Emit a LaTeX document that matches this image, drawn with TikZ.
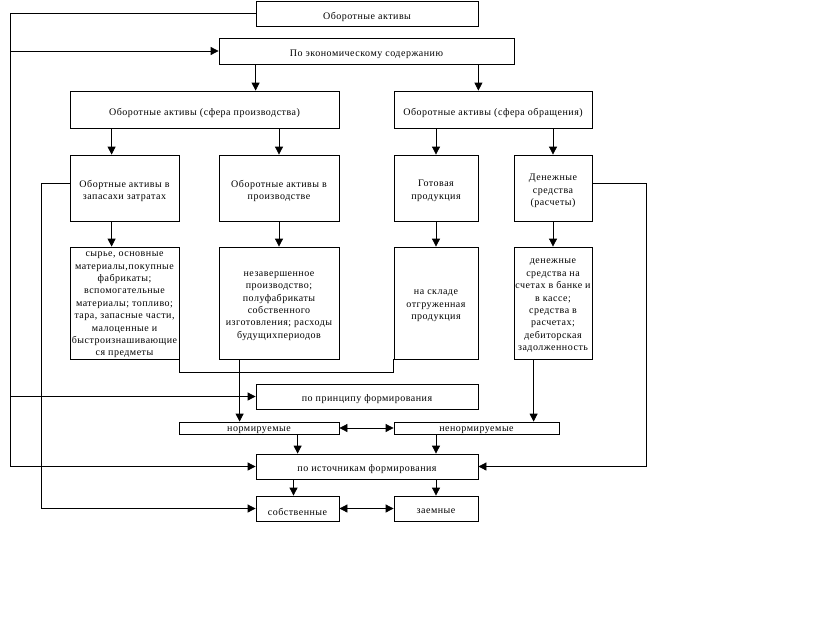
\documentclass[tikz,border=0pt]{standalone}
\usepackage{fontspec}
\newfontfamily\diafont[LetterSpace=5]{Liberation Serif}
\usetikzlibrary{arrows.meta}
\begin{document}
\begin{tikzpicture}[x=1pt,y=-1pt,
  box/.style={draw,line width=0.8pt,inner sep=0pt},
  boxtext/.style={align=center,inner sep=0pt,yshift=-3pt,
    font={\diafont\fontsize{10}{12.4}\selectfont}},
  conn/.style={line width=0.8pt},
  arr/.style={conn,-{Triangle[length=8pt,width=8pt]}},
  darr/.style={conn,{Triangle[length=8pt,width=8pt]}-{Triangle[length=8pt,width=8pt]}}]
\useasboundingbox (0,0) rectangle (834,629);
% boxes
\node[box,minimum width=222pt,minimum height=25pt,label={[boxtext]center:{Оборотные активы}}] (b1) at (367,13.5) {};
\node[box,minimum width=295pt,minimum height=26pt,label={[boxtext]center:{По экономическому содержанию}}] (b2) at (366.5,51) {};
\node[box,minimum width=269pt,minimum height=37pt,label={[boxtext]center:{Оборотные активы (сфера производства)}}] (b3) at (204.5,109.5) {};
\node[box,minimum width=198pt,minimum height=37pt,label={[boxtext]center:{Оборотные активы (сфера обращения)}}] (b4) at (493,109.5) {};
\node[box,minimum width=109pt,minimum height=66pt,label={[boxtext]center:{Обортные активы в\\запасахи затратах}}] (b5) at (124.5,188) {};
\node[box,minimum width=120pt,minimum height=66pt,label={[boxtext]center:{Оборотные активы в\\производстве}}] (b6) at (279,188) {};
\node[box,minimum width=84pt,minimum height=66pt,label={[boxtext]center:{Готовая\\продукция}}] (b7) at (436,188) {};
\node[box,minimum width=78pt,minimum height=66pt,label={[boxtext]center:{Денежные\\средства\\(расчеты)}}] (b8) at (553,188) {};
\node[box,minimum width=109pt,minimum height=112pt,label={[boxtext,yshift=1pt]center:{сырье, основные\\материалы,покупные\\фабрикаты;\\вспомогательные\\материалы; топливо;\\тара, запасные части,\\малоценные и\\быстроизнашивающие\\ся предметы}}] (b9) at (124.5,303) {};
\node[box,minimum width=120pt,minimum height=112pt,label={[boxtext]center:{незавершенное\\производство;\\полуфабрикаты\\собственного\\изготовления; расходы\\будущихпериодов}}] (b10) at (279,303) {};
\node[box,minimum width=84pt,minimum height=112pt,label={[boxtext]center:{на складе\\отгруженная\\продукция}}] (b11) at (436,303) {};
\node[box,minimum width=78pt,minimum height=112pt,label={[boxtext]center:{денежные\\средства на\\счетах в банке и\\в кассе;\\средства в\\расчетах;\\дебиторская\\задолженность}}] (b12) at (553,303) {};
\node[box,minimum width=222pt,minimum height=25pt,label={[boxtext]center:{по принципу формирования}}] (p1) at (367,396.5) {};
\node[box,minimum width=160pt,minimum height=12pt,label={[boxtext,yshift=1pt]center:{нормируемые}}] (n1) at (259,428) {};
\node[box,minimum width=165pt,minimum height=12pt,label={[boxtext,yshift=1pt]center:{ненормируемые}}] (n2) at (476.5,428) {};
\node[box,minimum width=222pt,minimum height=25pt,label={[boxtext]center:{по источникам формирования}}] (s1) at (367,466.5) {};
\node[box,minimum width=83pt,minimum height=25pt,label={[boxtext]center:{собственные}}] (o1) at (297.5,508.5) {};
\node[box,minimum width=84pt,minimum height=25pt,label={[boxtext]center:{заемные}}] (o2) at (436,508.5) {};
% helper coordinates
\coordinate (L) at (10,0);
\coordinate (L2) at (41,0);
\coordinate (R) at (646,0);
% outer left line
\draw[arr] (b1.west) -- (b1.west -| L) -- (s1.west -| L) -- (s1.west);
\draw[arr] (b2.west -| L) -- (b2.west);
\draw[arr] (p1.west -| L) -- (p1.west);
% tree arrows
\draw[arr] (b2.south -| b1.west) -- (b3.north -| b1.west);
\draw[arr] (b2.south -| b1.east) -- (b4.north -| b1.east);
\draw[arr] ([xshift=42pt]b3.south west) -- ([xshift=42pt]b5.north west);
\draw[arr] (b3.south -| b6.north) -- (b6.north);
\draw[arr] (b4.south -| b7.north) -- (b7.north);
\draw[arr] (b4.south -| b8.north) -- (b8.north);
\draw[arr] ([xshift=42pt]b5.south west) -- ([xshift=42pt]b9.north west);
\draw[arr] (b6.south) -- (b10.north);
\draw[arr] (b7.south) -- (b11.north);
\draw[arr] (b8.south) -- (b12.north);
% bracket under boxes
\draw[conn] (b9.south east) -- ++(0,13) -| (b11.south west);
% to нормируемые / ненормируемые
\draw[arr] ([xshift=21pt]b10.south west) coordinate (t1) -- (t1 |- n1.north);
\draw[arr] ([xshift=20pt]b12.south west) coordinate (t2) -- (t2 |- n2.north);
\draw[darr] (n1.east) -- (n2.west);
\draw[arr] ([xshift=119pt]n1.south west) coordinate (t3) -- (t3 |- s1.north);
\draw[arr] (n2.south -| o2.north) -- (s1.north -| o2.north);
% to собственные / заемные
\draw[arr] ([xshift=-4pt]s1.south -| o1.north) coordinate (t4) -- (t4 |- o1.north);
\draw[arr] (s1.south -| o2.north) -- (o2.north);
\draw[darr] (o1.east) -- (o2.west);
% side lines
\draw[arr] ([yshift=5pt]b5.west) coordinate (t5) -| (L2 |- o1.west) -- (o1.west);
\draw[arr] ([yshift=5pt]b8.east) coordinate (t6) -| (R |- s1.east) -- (s1.east);
\end{tikzpicture}
\end{document}
